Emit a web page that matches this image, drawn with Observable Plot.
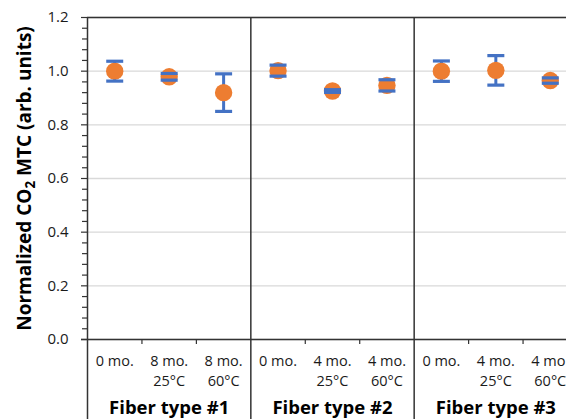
<!DOCTYPE html>
<html><head><meta charset="utf-8">
<script src="https://cdn.jsdelivr.net/npm/d3@7"></script>
<script src="https://cdn.jsdelivr.net/npm/@observablehq/plot@0.6"></script>
<style>
html,body{margin:0;padding:0;background:#fff;overflow:hidden;}
#chart svg{overflow:hidden;display:block;}
</style></head><body><div id="chart"></div>
<script>
// ---- data ----
const fibers = ["Fiber type #1", "Fiber type #2", "Fiber type #3"];
const conditions = ["0 mo.", "8 mo.", "8 mo.", "0 mo.", "4 mo.", "4 mo.", "0 mo.", "4 mo.", "4 mo."];
const temps = ["", "25°C", "60°C", "", "25°C", "60°C", "", "25°C", "60°C"];
const values = [1.000, 0.979, 0.920, 1.002, 0.926, 0.947, 1.000, 1.003, 0.965];
const errors = [0.037, 0.0125, 0.070, 0.0205, 0.005, 0.021, 0.038, 0.055, 0.010];
const yMajorTicks = [0, 0.2, 0.4, 0.6, 0.8, 1.0, 1.2];
const yMinorTicks = [0.04, 0.08, 0.12, 0.16, 0.24, 0.28, 0.32, 0.36, 0.44, 0.48, 0.52, 0.56,
  0.64, 0.68, 0.72, 0.76, 0.84, 0.88, 0.92, 0.96, 1.04, 1.08, 1.12, 1.16];
const yLabel = "Normalized CO2 MTC (arb. units)";

// ---- derived tables ----
const perPanel = 3;
const rows = values.map((v, i) => ({
  i, v, lo: v - errors[i], hi: v + errors[i],
  cond: conditions[i], temp: temps[i], fiber: fibers[Math.floor(i / perPanel)]
}));
const caps = rows.flatMap(d => [{i: d.i, y: d.lo}, {i: d.i, y: d.hi}]);
const panelEdges = d3.range(fibers.length + 1).map(p => p * perPanel - 0.5);
const innerTicks = rows.map(d => d.i + 0.5).filter(x => !panelEdges.includes(x));
const panelCenters = fibers.map((f, p) => ({f, x: p * perPanel + (perPanel - 1) / 2}));

const orange = "#ED7D31", blue = "#4472C4", axisColor = "#333";
const capSymbol = {draw(ctx, size) { const r = Math.sqrt(size / Math.PI); ctx.moveTo(-r, 0); ctx.lineTo(r, 0); }};
const font = "'Open Sans', sans-serif";

const chart = Plot.plot({
  width: 566, height: 419,
  marginLeft: 87, marginRight: 0, marginTop: 17, marginBottom: 80,
  style: {fontFamily: font, background: "#fff"},
  x: {type: "linear", domain: [-0.5, rows.length - 0.5], range: [87, 577], axis: null},
  y: {domain: [0, 1.2], axis: null},
  marks: [
    Plot.ruleY(yMajorTicks, {stroke: "#d9d9d9", strokeWidth: 1.3}),
    Plot.ruleY(yMinorTicks, {x1: -0.5, x2: -0.5, insetLeft: -5, stroke: axisColor, strokeWidth: 1.2}),
    Plot.ruleY(yMajorTicks, {x1: -0.5, x2: -0.5, insetLeft: -6, stroke: axisColor, strokeWidth: 1.2}),
    Plot.ruleY([1.2], {stroke: axisColor, strokeWidth: 1.5}),
    Plot.ruleY([0], {stroke: axisColor, strokeWidth: 1.5, insetLeft: -6}),
    Plot.ruleX(panelEdges, {stroke: axisColor, strokeWidth: 1.5, insetBottom: -80}),
    Plot.ruleX(innerTicks, {y1: 0, y2: 0, insetBottom: -5, stroke: axisColor, strokeWidth: 1.2}),
    Plot.text(yMajorTicks, {x: -0.5, y: d => d, text: d => d.toFixed(1), textAnchor: "end", dx: -19,
      fontSize: 15, fill: "#1a1a1a"}),
    Plot.ruleX(rows, {x: "i", y1: "lo", y2: "hi", stroke: blue, strokeWidth: 3}),
    Plot.dot(rows, {x: "i", y: "v", r: 8.7, fill: orange, stroke: "none"}),
    Plot.dot(caps, {x: "i", y: "y", symbol: capSymbol, r: 8.5, fill: "none", stroke: blue, strokeWidth: 3.2}),
    Plot.text(rows, {x: "i", y: 0, text: "cond", dy: 26, lineAnchor: "bottom", fontSize: 14.5, fill: "#1a1a1a"}),
    Plot.text(rows, {x: "i", y: 0, text: "temp", dy: 46, lineAnchor: "bottom", fontSize: 14.5, fill: "#1a1a1a"}),
    Plot.text(panelCenters, {x: "x", y: 0, text: "f", dy: 74, lineAnchor: "bottom", fontSize: 18.5,
      fontWeight: "bold", fill: "#000"}),
    Plot.text([yLabel], {x: -0.5, y: 0.6, text: d => d, dx: -63, rotate: -90, fontSize: 19,
      fontWeight: "bold", fill: "#000"})
  ]
});
document.getElementById("chart").appendChild(chart);

// subscript "2" in CO2
d3.select(chart).selectAll("text").filter(function() { return this.textContent === yLabel; })
  .each(function() {
    const t = d3.select(this);
    t.selectAll("*").remove();
    t.text(null);
    t.append("tspan").text("Normalized CO");
    t.append("tspan").attr("dy", "0.3em").attr("font-size", "0.7em").text("2");
    t.append("tspan").attr("dy", "-0.21em").text(" MTC (arb. units)");
  });
</script>
</body></html>
